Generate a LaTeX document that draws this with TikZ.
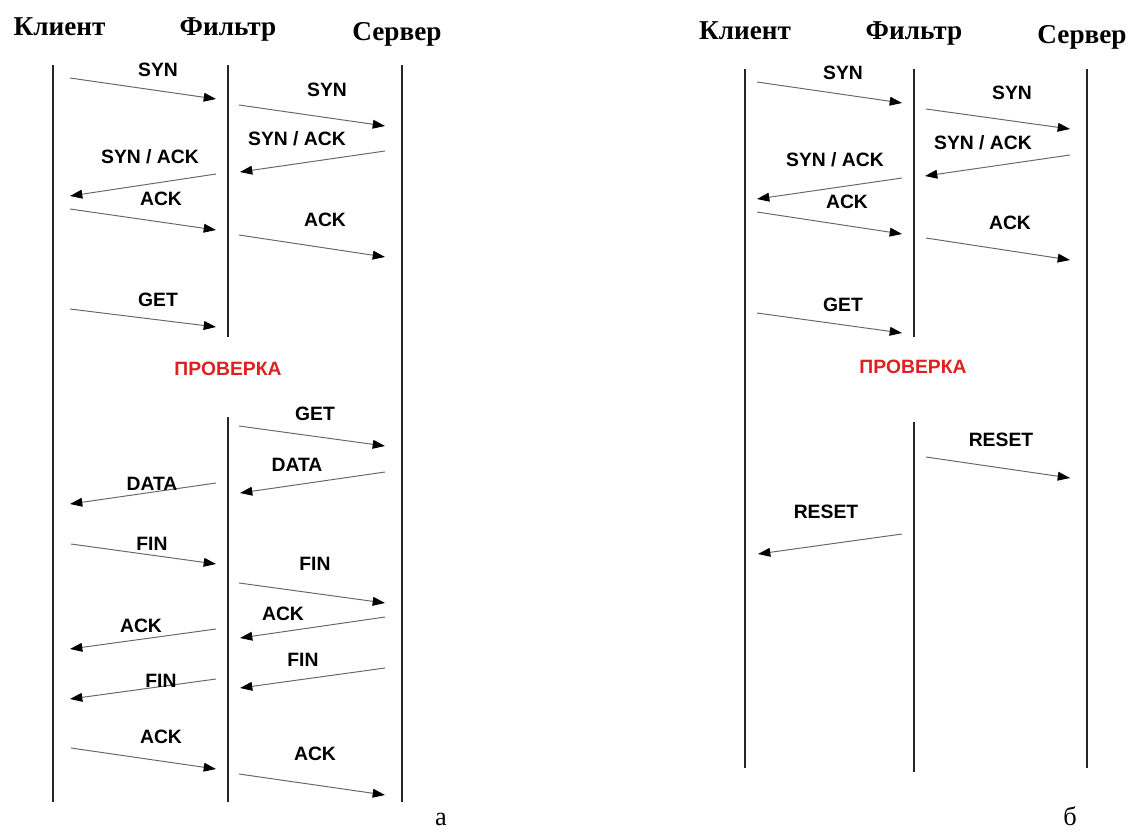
\documentclass[tikz,border=0pt]{standalone}
\usepackage{fontspec}
\setmainfont{Liberation Serif}
\newfontfamily\labelfont{Liberation Sans}
\usetikzlibrary{arrows.meta}

\definecolor{checkred}{RGB}{222,32,32}

\tikzset{
  lifeline/.style={line width=1.3pt, draw=black!85},
  message/.style={line width=0.55pt, draw=black!60,
    -{Triangle[length=7pt,width=5pt,color=black]}},
  msglabel/.style={font=\labelfont\bfseries\fontsize{11}{13}\selectfont, inner sep=0pt},
  checklabel/.style={msglabel, text=checkred},
  actor/.style={font=\bfseries\fontsize{15.5}{18}\selectfont, anchor=base, inner sep=0pt},
  panel/.style={font=\fontsize{15}{18}\selectfont, anchor=base, inner sep=0pt}
}

% one message: name, start (x,y), end (x,y), label centre (x,y), text
\newcommand\msgline[8]{%
  \coordinate (#1s) at (#2,#3);
  \coordinate (#1e) at (#4,#5);
  \draw[message] (#1s) -- (#1e);
  \node[msglabel] (#1l) at (#6,#7) {#8};
}
% one lifeline segment: name, x, top y, bottom y
\newcommand\lifeseg[4]{%
  \coordinate (#1t) at (#2,#3);
  \coordinate (#1b) at (#2,#4);
  \draw[lifeline] (#1t) -- (#1b);
}

\begin{document}
\begin{tikzpicture}[x=0.02cm, y=-0.02cm]
\useasboundingbox (0,0) rectangle (1130,832);

% ---------- panel a: full exchange ----------
\node[actor] (aC) at (59.5,35) {Клиент};
\node[actor] (aF) at (228,35) {Фильтр};
\node[actor] (aS) at (397,40) {Сервер};

\lifeseg{aCl}{53}{65}{802}
\lifeseg{aFa}{228}{65}{337}
\lifeseg{aFb}{228}{417}{802}
\lifeseg{aSl}{402}{65}{802}

\msgline{a1}{70}{78}{216}{99}{158}{70}{SYN}
\msgline{a2}{239}{105}{385}{126}{327}{90}{SYN}
\msgline{a3}{385}{151}{240}{172}{297}{139}{SYN / ACK}
\msgline{a4}{216}{174}{70}{196}{150}{157}{SYN / ACK}
\msgline{a5}{70}{209}{216}{230}{161}{199}{ACK}
\msgline{a6}{239}{235}{385}{257}{325}{220}{ACK}
\msgline{a7}{70}{309}{216}{327}{158}{300}{GET}

\node[checklabel] (aChk) at (228,369) {ПРОВЕРКА};

\msgline{a8}{239}{426}{385}{446}{315}{414}{GET}
\msgline{a9}{385}{472}{240}{493}{297}{465}{DATA}
\msgline{a10}{216}{483}{70}{504}{152}{484}{DATA}
\msgline{a11}{71}{544}{216}{564}{152}{544}{FIN}
\msgline{a12}{239}{583}{385}{603}{315}{564}{FIN}
\msgline{a13}{385}{617}{240}{638}{283}{614}{ACK}
\msgline{a14}{216}{629}{70}{649}{141}{626}{ACK}
\msgline{a15}{385}{668}{240}{688}{303}{660}{FIN}
\msgline{a16}{216}{679}{70}{699}{161}{681}{FIN}
\msgline{a17}{71}{748}{216}{769}{161}{737}{ACK}
\msgline{a18}{239}{774}{385}{795}{315}{754}{ACK}

\node[panel] (aTag) at (441,825) {а};

% ---------- panel b: connection reset ----------
\node[actor] (bC) at (745,39) {Клиент};
\node[actor] (bF) at (914,39) {Фильтр};
\node[actor] (bS) at (1082,43) {Сервер};

\lifeseg{bCl}{745}{69}{768}
\lifeseg{bFa}{914}{69}{337}
\lifeseg{bFb}{914}{422}{772}
\lifeseg{bSl}{1087}{69}{768}

\msgline{b1}{757}{82}{902}{103}{843}{73}{SYN}
\msgline{b2}{926}{109}{1070}{129}{1012}{93}{SYN}
\msgline{b3}{1070}{155}{925}{176}{983}{143}{SYN / ACK}
\msgline{b4}{902}{178}{757}{199}{835}{160}{SYN / ACK}
\msgline{b5}{757}{212}{902}{234}{847}{202}{ACK}
\msgline{b6}{926}{238}{1070}{260}{1010}{223}{ACK}
\msgline{b7}{757}{313}{902}{333}{843}{305}{GET}

\node[checklabel] (bChk) at (913,367) {ПРОВЕРКА};

\msgline{b8}{926}{457}{1070}{478}{1001}{440}{RESET}
\msgline{b9}{902}{534}{758}{554}{826}{512}{RESET}

\node[panel] (bTag) at (1070,825) {б};
\end{tikzpicture}
\end{document}
